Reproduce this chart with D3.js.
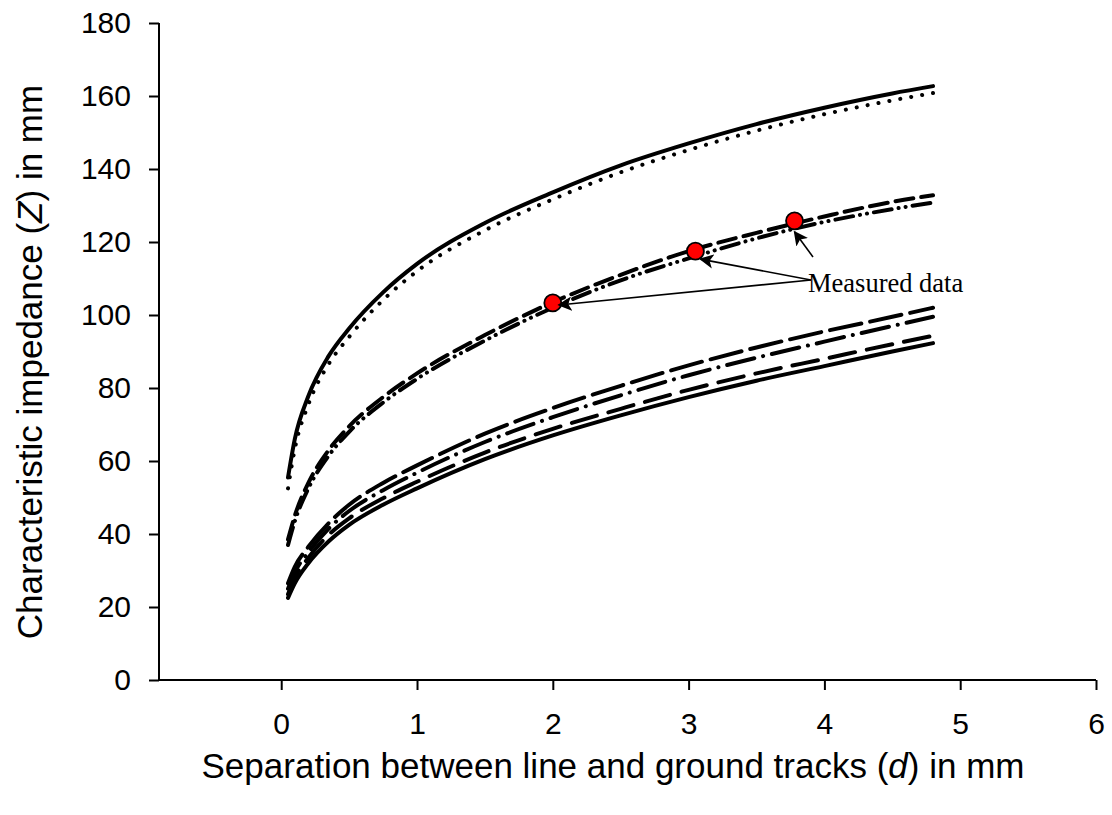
<!DOCTYPE html>
<html>
<head>
<meta charset="utf-8">
<script src="https://cdn.jsdelivr.net/npm/d3@7/dist/d3.min.js"></script>
<style>
  html, body { margin: 0; padding: 0; background: #fff; }
  svg { display: block; }
  .tick text { font-family: "Liberation Sans", Arial, sans-serif; }
</style>
</head>
<body>
<svg id="chart" width="1112" height="815"></svg>
<script>
// Track separation d (mm) at which every curve is sampled
const separation = [0.05, 0.1, 0.2, 0.35, 0.5, 0.75, 1, 1.5, 2, 2.5, 3, 3.5, 4, 4.5, 4.8];

// Upper pair of curves
const upperSolid  = [55.5, 66, 77.8, 88.8, 96.3, 106.2, 114, 125.2, 133.6, 141, 147, 152.3, 156.8, 160.7, 162.7];
const upperDotted = [52.5, 63.3, 75.5, 86.6, 94, 104.1, 112, 123.2, 131.7, 139.1, 145.2, 150.5, 155, 158.8, 160.8];

// Middle pair of curves
const middleDash       = [38.5, 45, 54, 63, 69.5, 77.5, 84, 94.5, 103.5, 111, 117.5, 122.5, 127, 131, 132.8];
const middleDashDotDot = [37, 43.5, 52.5, 61.5, 68, 76, 82.5, 93, 102, 109.5, 115.5, 121, 125.5, 129, 130.8];

// Lower group of four curves
const lowerSolid    = [22.5, 26.5, 32, 38, 42.5, 48, 52.5, 60.5, 67, 72.5, 77.5, 82, 86, 90, 92.3];
const lowerDash     = [23.5, 28, 33.5, 39.8, 44.3, 49.8, 54.3, 62.3, 68.8, 74.3, 79.5, 84, 88, 92, 94.3];
const lowerDashDot  = [25, 29.5, 35, 41.5, 46.3, 52, 56.8, 65.2, 72, 78, 83.5, 88.3, 92.7, 97, 99.5];
const lowerLongDash = [26.5, 31, 36.5, 43, 48, 54, 58.8, 67.5, 74.5, 80.6, 86.2, 91.1, 95.5, 99.5, 102];

// Measured points
const measuredD = [2, 3.05, 3.78];
const measuredZ = [103.3, 117.5, 125.8];

// Axis ticks
const xTicks = [0, 1, 2, 3, 4, 5, 6];
const yTicks = [0, 20, 40, 60, 80, 100, 120, 140, 160, 180];

const svg = d3.select("#chart");

const x = d3.scaleLinear().domain([-0.9, 6]).range([159, 1096]);
const y = d3.scaleLinear().domain([0, 180]).range([680, 23]);

// Axes
const xAxis = d3.axisBottom(x).tickValues(xTicks).tickSize(10).tickPadding(23).tickFormat(d3.format("d"));
const yAxis = d3.axisLeft(y).tickValues(yTicks).tickSize(10).tickPadding(18).tickFormat(d3.format("d"));

const gx = svg.append("g").attr("transform", `translate(0,${y(0)})`).call(xAxis);
gx.select(".domain").attr("d", `M${x(-0.9)},0H${x(6)}`);
const gy = svg.append("g").attr("transform", `translate(${x(-0.9)},0)`).call(yAxis);
gy.select(".domain").attr("d", `M0,${y(0)}V${y(180)}`);

svg.selectAll(".domain, .tick line").attr("stroke", "#000").attr("stroke-width", 2);
svg.selectAll(".tick text").attr("font-size", 30).attr("fill", "#000");

// Axis titles
svg.append("text")
  .attr("x", 613).attr("y", 778)
  .attr("text-anchor", "middle")
  .attr("font-family", "Liberation Sans, Arial, sans-serif")
  .attr("font-size", 35)
  .html('Separation between line and ground tracks (<tspan font-style="italic">d</tspan>) in mm');

svg.append("text")
  .attr("transform", "translate(42,362) rotate(-90)")
  .attr("text-anchor", "middle")
  .attr("font-family", "Liberation Sans, Arial, sans-serif")
  .attr("font-size", 35)
  .html('Characteristic impedance (<tspan font-style="italic">Z</tspan>) in mm');

// Curves
const curves = [
  { values: upperSolid,       dash: null },
  { values: upperDotted,      dash: "0.1 11" },
  { values: middleDash,       dash: "18 8" },
  { values: middleDashDotDot, dash: "18 7 0.1 7 0.1 7" },
  { values: lowerSolid,       dash: null },
  { values: lowerDash,        dash: "26 12" },
  { values: lowerDashDot,     dash: "28 9 0.1 9" },
  { values: lowerLongDash,    dash: "32 9" }
];

const line = d3.line()
  .x((d, i) => x(separation[i]))
  .y(d => y(d))
  .curve(d3.curveMonotoneX);

svg.append("g").selectAll("path")
  .data(curves)
  .join("path")
  .attr("d", c => line(c.values))
  .attr("fill", "none")
  .attr("stroke", "#000")
  .attr("stroke-width", 4)
  .attr("stroke-linecap", "round")
  .attr("stroke-linejoin", "round")
  .attr("stroke-dasharray", c => c.dash);

// Measured data markers
const measured = measuredD.map((d, i) => ({ d, z: measuredZ[i] }));
svg.append("g").selectAll("circle")
  .data(measured)
  .join("circle")
  .attr("cx", p => x(p.d))
  .attr("cy", p => y(p.z))
  .attr("r", 8.5)
  .attr("fill", "#ff0000")
  .attr("stroke", "#000")
  .attr("stroke-width", 1.8);

// Annotation with arrows
const defs = svg.append("defs");
defs.append("marker")
  .attr("id", "arrowHead")
  .attr("viewBox", "0 0 10 10")
  .attr("refX", 9).attr("refY", 5)
  .attr("markerWidth", 9).attr("markerHeight", 9)
  .attr("markerUnits", "strokeWidth")
  .attr("orient", "auto")
  .append("path").attr("d", "M0,0L10,5L0,10L2.5,5Z").attr("fill", "#000");

const labelX = 811, labelY = 280;
const arrows = [
  { from: [labelX, labelY], to: measured[0], off: [6, 2] },
  { from: [labelX, labelY], to: measured[1], off: [5, 8] },
  { from: [813, 257],       to: measured[2], off: [0, 11] }
];
svg.append("g").selectAll("line")
  .data(arrows)
  .join("line")
  .attr("x1", a => a.from[0]).attr("y1", a => a.from[1])
  .attr("x2", a => x(a.to.d) + a.off[0]).attr("y2", a => y(a.to.z) + a.off[1])
  .attr("stroke", "#000")
  .attr("stroke-width", 1.6)
  .attr("marker-end", "url(#arrowHead)");

svg.append("text")
  .attr("x", 808).attr("y", 292)
  .attr("font-family", "Liberation Serif, Times New Roman, serif")
  .attr("font-size", 26.5)
  .attr("fill", "#000")
  .text("Measured data");
</script>
</body>
</html>
